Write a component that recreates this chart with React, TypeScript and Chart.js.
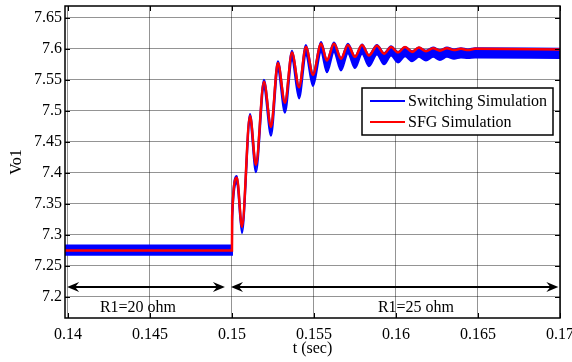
import { useEffect, useRef } from 'react';
import { Chart, registerables } from 'chart.js';

Chart.register(...registerables);

// Time instants (s) at the corners / extrema of the output-voltage response
const tSec = [
  0.13982, 0.15, 0.15001, 0.1503, 0.15061, 0.1511, 0.15146, 0.15195, 0.15238,
  0.1528, 0.15323, 0.15366, 0.15409, 0.15451, 0.15494, 0.15543, 0.15579,
  0.15622, 0.15665, 0.15707, 0.1575, 0.15793, 0.15835, 0.15884, 0.15927,
  0.1597, 0.16012, 0.16055, 0.16098, 0.1614, 0.16183, 0.16226, 0.16268,
  0.16311, 0.16354, 0.16396, 0.16439, 0.16482, 0.17,
];

// Vo1 from the signal-flow-graph model
const sfgVo1 = [
  7.275, 7.275, 7.33, 7.392, 7.313, 7.492, 7.413, 7.547, 7.474,
  7.577, 7.513, 7.594, 7.538, 7.603, 7.558, 7.608, 7.581,
  7.608, 7.584, 7.606, 7.587, 7.606, 7.589, 7.605, 7.592,
  7.603, 7.594, 7.603, 7.595, 7.602, 7.596, 7.601, 7.597,
  7.601, 7.598, 7.6, 7.598, 7.6, 7.599,
];

// Vo1 from the switching simulation: upper and lower edge of the ripple band
const switchingVo1Max = [
  7.283, 7.283, 7.336, 7.395, 7.316, 7.495, 7.416, 7.55, 7.477,
  7.58, 7.515, 7.597, 7.54, 7.606, 7.56, 7.611, 7.582,
  7.61, 7.585, 7.608, 7.588, 7.607, 7.59, 7.606, 7.593,
  7.604, 7.595, 7.603, 7.596, 7.602, 7.597, 7.602, 7.598,
  7.602, 7.599, 7.601, 7.599, 7.601, 7.6,
];
const switchingVo1Min = [
  7.268, 7.268, 7.322, 7.384, 7.303, 7.482, 7.401, 7.536, 7.46,
  7.565, 7.497, 7.582, 7.52, 7.59, 7.54, 7.595, 7.562,
  7.595, 7.565, 7.593, 7.569, 7.592, 7.572, 7.591, 7.575,
  7.589, 7.578, 7.588, 7.58, 7.587, 7.581, 7.587, 7.582,
  7.587, 7.584, 7.586, 7.585, 7.586, 7.585,
];

const seriesNames = ['Switching Simulation', 'SFG Simulation'];
const seriesColors = ['#0000ff', '#ff0000'];

// Load intervals marked under the traces
const loadLabels = ['R1=20 ohm', 'R1=25 ohm'];
const loadStart = [0.13995, 0.14994];
const loadEnd = [0.14957, 0.1699];
const loadLabelT = [0.14427, 0.16122];
const loadArrowV = 7.216;
const loadLabelV = 7.182;

const X_MIN = 0.13982;
const X_MAX = 0.17;
const Y_MIN = 7.166;
const Y_MAX = 7.669;

const SERIF = "'Liberation Serif', 'Times New Roman', serif";

const fmt = (v: number) => String(parseFloat(Number(v).toFixed(4)));

function arrowHead(ctx: CanvasRenderingContext2D, x: number, y: number, dir: number) {
  ctx.beginPath();
  ctx.moveTo(x, y);
  ctx.lineTo(x - dir * 12, y - 5);
  ctx.lineTo(x - dir * 8, y);
  ctx.lineTo(x - dir * 12, y + 5);
  ctx.closePath();
  ctx.fill();
}

const decorations = {
  id: 'decorations',
  afterDraw(chart: any) {
    const { ctx, chartArea: a, scales } = chart;
    const xs = scales.x;
    const ys = scales.y;
    ctx.save();

    // inward tick marks on all four sides
    ctx.strokeStyle = '#000';
    ctx.lineWidth = 1;
    xs.ticks.forEach((t: any) => {
      const px = Math.round(xs.getPixelForValue(t.value)) + 0.5;
      ctx.beginPath();
      ctx.moveTo(px, a.top);
      ctx.lineTo(px, a.top + 5);
      ctx.moveTo(px, a.bottom);
      ctx.lineTo(px, a.bottom - 5);
      ctx.stroke();
    });
    ys.ticks.forEach((t: any) => {
      const py = Math.round(ys.getPixelForValue(t.value)) + 0.5;
      ctx.beginPath();
      ctx.moveTo(a.left, py);
      ctx.lineTo(a.left + 5, py);
      ctx.moveTo(a.right, py);
      ctx.lineTo(a.right - 5, py);
      ctx.stroke();
    });

    // load-interval arrows and labels
    ctx.fillStyle = '#000';
    ctx.lineWidth = 2;
    const ay = ys.getPixelForValue(loadArrowV);
    loadLabels.forEach((label, i) => {
      const x0 = xs.getPixelForValue(loadStart[i]);
      const x1 = xs.getPixelForValue(loadEnd[i]);
      ctx.beginPath();
      ctx.moveTo(x0 + 6, ay);
      ctx.lineTo(x1 - 6, ay);
      ctx.stroke();
      arrowHead(ctx, x0, ay, -1);
      arrowHead(ctx, x1, ay, 1);
      ctx.font = `16px ${SERIF}`;
      ctx.textAlign = 'center';
      ctx.textBaseline = 'middle';
      ctx.fillText(label, xs.getPixelForValue(loadLabelT[i]), ys.getPixelForValue(loadLabelV));
    });

    // axes box
    ctx.lineWidth = 1.5;
    ctx.strokeStyle = '#000';
    ctx.strokeRect(a.left, a.top, a.right - a.left, a.bottom - a.top);

    // legend
    const lx = a.right - 198;
    const ly = a.top + 82;
    const lw = 191;
    const lh = 47;
    ctx.fillStyle = '#fff';
    ctx.fillRect(lx, ly, lw, lh);
    ctx.lineWidth = 1.5;
    ctx.strokeRect(lx, ly, lw, lh);
    ctx.font = `16px ${SERIF}`;
    ctx.textAlign = 'left';
    ctx.textBaseline = 'middle';
    seriesNames.forEach((name, i) => {
      const rowY = ly + 13 + i * 21;
      ctx.strokeStyle = seriesColors[i];
      ctx.lineWidth = 2;
      ctx.beginPath();
      ctx.moveTo(lx + 8, rowY);
      ctx.lineTo(lx + 43, rowY);
      ctx.stroke();
      ctx.fillStyle = '#000';
      ctx.fillText(name, lx + 46, rowY + 1);
    });

    ctx.restore();
  },
};

export default function App() {
  const canvasRef = useRef<HTMLCanvasElement | null>(null);

  useEffect(() => {
    document.body.style.margin = '0';
    const canvas = canvasRef.current;
    if (!canvas) return;

    const toPoints = (vals: number[]) => vals.map((v, i) => ({ x: tSec[i], y: v }));

    const chart = new Chart(canvas, {
      type: 'line',
      data: {
        datasets: [
          {
            label: seriesNames[0],
            data: toPoints(switchingVo1Max),
            borderColor: seriesColors[0],
            borderWidth: 2,
            pointRadius: 0,
            cubicInterpolationMode: 'monotone',
            fill: false,
            order: 2,
          },
          {
            label: seriesNames[0] + ' (min)',
            data: toPoints(switchingVo1Min),
            borderColor: seriesColors[0],
            backgroundColor: seriesColors[0],
            borderWidth: 2,
            pointRadius: 0,
            cubicInterpolationMode: 'monotone',
            fill: '-1',
            order: 2,
          },
          {
            label: seriesNames[1],
            data: toPoints(sfgVo1),
            borderColor: seriesColors[1],
            borderWidth: 2.5,
            pointRadius: 0,
            cubicInterpolationMode: 'monotone',
            fill: false,
            order: 1,
          },
        ],
      },
      options: {
        responsive: false,
        animation: false,
        events: [],
        layout: { padding: { top: 6, right: 12, left: 0, bottom: 0 } },
        plugins: {
          legend: { display: false },
          tooltip: { enabled: false },
        },
        scales: {
          x: {
            type: 'linear',
            min: X_MIN,
            max: X_MAX,
            border: { display: false },
            grid: { color: 'rgba(0,0,0,0.42)', lineWidth: 1, drawTicks: false },
            ticks: {
              stepSize: 0.005,
              includeBounds: false,
              autoSkip: false,
              maxRotation: 0,
              padding: 7,
              color: '#000',
              font: { family: SERIF, size: 16 },
              callback: (v: any) => fmt(v),
            },
            title: {
              display: true,
              text: 't (sec)',
              color: '#000',
              font: { family: SERIF, size: 16 },
              padding: { top: 0, bottom: 4 },
            },
            afterFit: (s: any) => {
              s.height = 44;
              s.paddingLeft = 0;
              s.paddingRight = 0;
            },
          },
          y: {
            type: 'linear',
            min: Y_MIN,
            max: Y_MAX,
            border: { display: false },
            grid: { color: 'rgba(0,0,0,0.42)', lineWidth: 1, drawTicks: false },
            ticks: {
              stepSize: 0.05,
              includeBounds: false,
              autoSkip: false,
              padding: 3,
              color: '#000',
              font: { family: SERIF, size: 16 },
              callback: (v: any) => fmt(v),
            },
            title: {
              display: true,
              text: 'Vo1',
              color: '#000',
              font: { family: SERIF, size: 16 },
              padding: { top: 7, bottom: 0 },
            },
            afterFit: (s: any) => {
              s.width = 65;
              s.paddingTop = 0;
              s.paddingBottom = 0;
            },
          },
        },
      },
      plugins: [decorations],
    });

    return () => chart.destroy();
  }, []);

  return (
    <div style={{ width: 572, height: 362, background: '#fff' }}>
      <canvas ref={canvasRef} width={572} height={362} style={{ display: 'block' }} />
    </div>
  );
}
